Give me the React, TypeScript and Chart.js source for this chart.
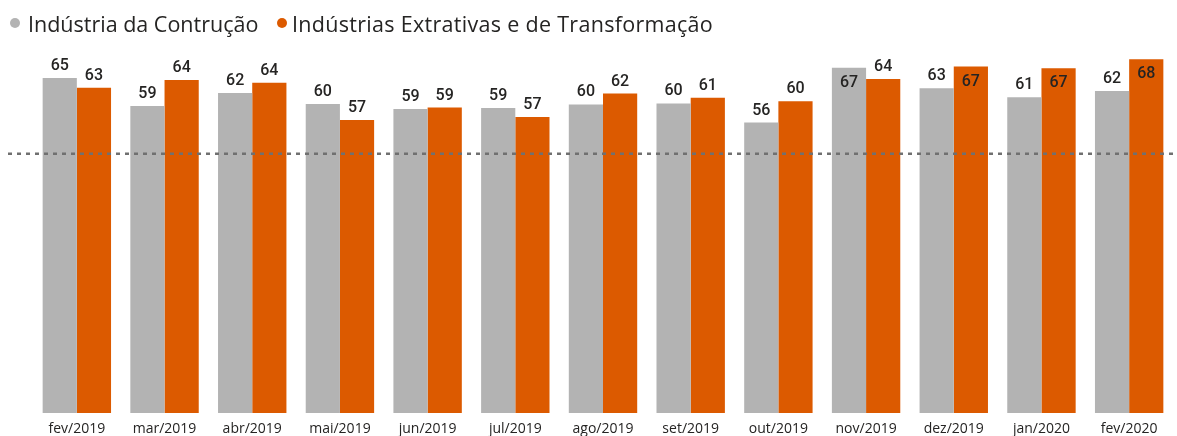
import React, { useEffect, useRef } from "react";
import { Chart, registerables } from "chart.js";

Chart.register(...registerables);

const categories = [
  "fev/2019", "mar/2019", "abr/2019", "mai/2019", "jun/2019", "jul/2019",
  "ago/2019", "set/2019", "out/2019", "nov/2019", "dez/2019", "jan/2020", "fev/2020",
];
const seriesNames = ["Indústria da Contrução", "Indústrias Extrativas e de Transformação"];
const construcao = [64.6, 59.2, 61.7, 59.6, 58.6, 58.8, 59.5, 59.7, 56.0, 66.6, 62.6, 60.9, 62.1];
const extrativas = [62.7, 64.2, 63.7, 56.5, 58.9, 57.1, 61.6, 60.8, 60.1, 64.4, 66.8, 66.5, 68.2];
const thresholdValue = 50;

const GRAY = "#B3B3B3";
const ORANGE = "#DC5A00";
const TEXT = "#252423";

const thresholdPlugin = {
  id: "threshold",
  afterDatasetsDraw(chart: any) {
    const { ctx } = chart;
    const y = chart.scales.y.getPixelForValue(thresholdValue);
    ctx.save();
    ctx.beginPath();
    ctx.setLineDash([4, 5]);
    ctx.lineWidth = 2.5;
    ctx.strokeStyle = "#707070";
    ctx.moveTo(8, y);
    ctx.lineTo(chart.width, y);
    ctx.stroke();
    ctx.restore();
  },
};

const labelPlugin = {
  id: "barLabels",
  afterDatasetsDraw(chart: any) {
    const { ctx, chartArea } = chart;
    ctx.save();
    ctx.font = "500 16px Roboto";
    ctx.fillStyle = TEXT;
    ctx.textAlign = "center";
    ctx.textBaseline = "middle";
    chart.data.datasets.forEach((ds: any, di: number) => {
      const meta = chart.getDatasetMeta(di);
      meta.data.forEach((bar: any, i: number) => {
        const v = Math.round(ds.data[i]);
        const inside = bar.y - 22 < chartArea.top;
        const ty = inside ? bar.y + 15 : bar.y - 12;
        ctx.fillText(String(v), bar.x, ty);
      });
    });
    ctx.restore();
  },
};

export default function App() {
  const ref = useRef<HTMLCanvasElement>(null);
  useEffect(() => {
    const chart = new Chart(ref.current as HTMLCanvasElement, {
      type: "bar",
      data: {
        labels: categories,
        datasets: [
          { label: seriesNames[0], data: construcao, backgroundColor: GRAY },
          { label: seriesNames[1], data: extrativas, backgroundColor: ORANGE },
        ],
      },
      options: {
        animation: false,
        responsive: false,
        maintainAspectRatio: false,
        layout: { padding: { left: 33, right: 4, top: 50, bottom: -9 } },
        datasets: { bar: { barPercentage: 1, categoryPercentage: 0.78 } },
        plugins: { legend: { display: false }, tooltip: { enabled: false } },
        scales: {
          x: {
            grid: { display: false, drawTicks: false },
            border: { display: false },
            ticks: {
              color: TEXT,
              font: { family: "Open Sans", size: 14, lineHeight: 1 },
              padding: 9,
              maxRotation: 0,
              autoSkip: false,
            },
          },
          y: { display: false, min: 0, max: 70 },
        },
      },
      plugins: [thresholdPlugin, labelPlugin],
    });
    return () => chart.destroy();
  }, []);

  const legendText: React.CSSProperties = {
    position: "absolute",
    top: 13,
    fontFamily: "Open Sans",
    fontSize: 21.5,
    lineHeight: "21px",
    color: TEXT,
    whiteSpace: "nowrap",
  };
  const dot = (left: number, color: string): React.CSSProperties => ({
    position: "absolute",
    left,
    top: 18,
    width: 10,
    height: 10,
    borderRadius: "50%",
    background: color,
  });

  return (
    <div style={{ position: "absolute", left: 0, top: 0, width: 1177, height: 436, background: "#fff" }}>
      <canvas ref={ref} width={1177} height={436} style={{ position: "absolute", left: 0, top: 0 }} />
      <div style={dot(10, GRAY)} />
      <div style={{ ...legendText, left: 28 }}>{seriesNames[0]}</div>
      <div style={dot(277, ORANGE)} />
      <div style={{ ...legendText, left: 292, letterSpacing: "0.3px" }}>{seriesNames[1]}</div>
    </div>
  );
}
